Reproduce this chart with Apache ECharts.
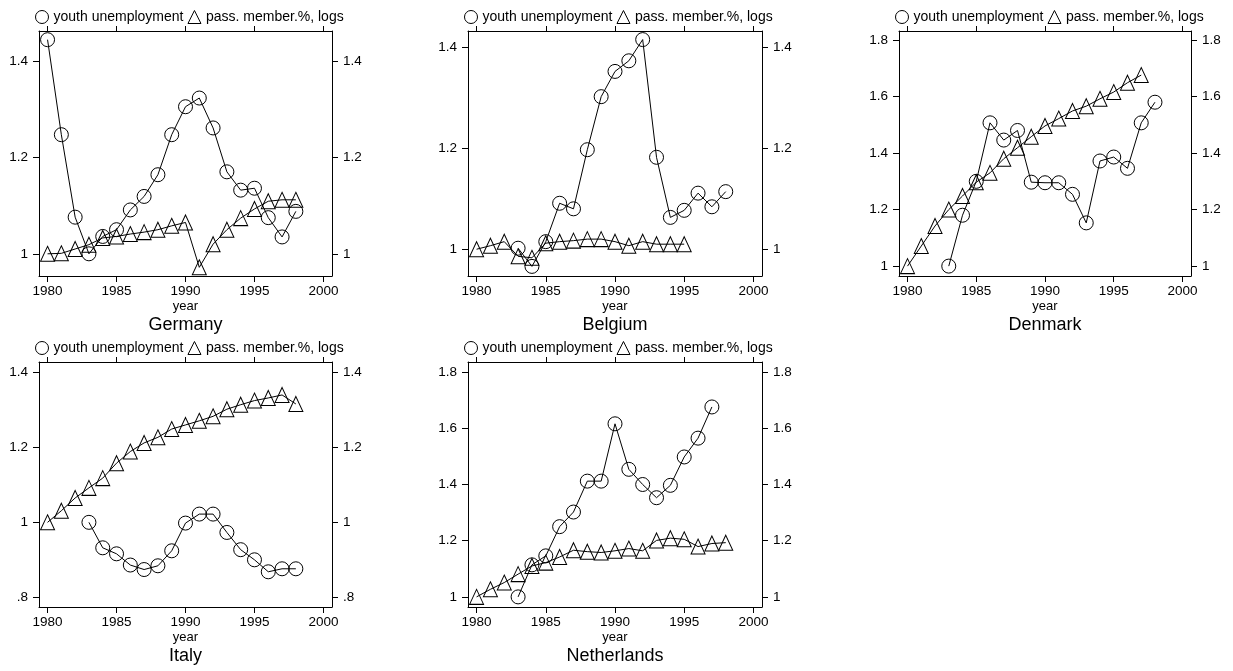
<!DOCTYPE html>
<html>
<head>
<meta charset="utf-8">
<title>youth unemployment and passenger membership</title>
<script src="https://cdn.jsdelivr.net/npm/echarts@6/dist/echarts.min.js"></script>
<style>
html, body { margin: 0; padding: 0; background: #fff; }
#main { width: 1233px; height: 671px; }
</style>
</head>
<body>
<div id="main"></div>
<script>
var years = [1980, 1981, 1982, 1983, 1984, 1985, 1986, 1987, 1988, 1989,
             1990, 1991, 1992, 1993, 1994, 1995, 1996, 1997, 1998];
var countries = ['Germany', 'Belgium', 'Denmark', 'Italy', 'Netherlands'];
var seriesNames = ['youth unemployment', 'pass. member.%, logs'];

var deUnemp  = [1.444, 1.247, 1.076, 1.000, 1.036, 1.050, 1.091, 1.119, 1.164, 1.247, 1.305, 1.323, 1.261, 1.170, 1.132, 1.136, 1.075, 1.035, 1.088];
var deMember = [1.000, 1.001, 1.010, 1.019, 1.033, 1.036, 1.041, 1.045, 1.050, 1.058, 1.065, 0.972, 1.020, 1.050, 1.074, 1.093, 1.109, 1.112, 1.112];

var beUnemp  = [null, null, null, 1.002, 0.966, 1.015, 1.091, 1.080, 1.197, 1.302, 1.352, 1.373, 1.415, 1.182, 1.063, 1.077, 1.111, 1.084, 1.114];
var beMember = [1.000, 1.007, 1.015, 0.986, 0.983, 1.012, 1.015, 1.017, 1.020, 1.020, 1.015, 1.007, 1.015, 1.010, 1.010, 1.010, null, null, null];

var dkUnemp  = [null, null, null, 1.000, 1.180, 1.300, 1.507, 1.446, 1.480, 1.297, 1.295, 1.295, 1.254, 1.153, 1.372, 1.386, 1.346, 1.507, 1.580];
var dkMember = [1.000, 1.071, 1.142, 1.200, 1.248, 1.297, 1.330, 1.380, 1.419, 1.458, 1.496, 1.522, 1.549, 1.566, 1.592, 1.616, 1.649, 1.676, null];

var itUnemp  = [null, null, null, 1.000, 0.932, 0.916, 0.886, 0.874, 0.884, 0.924, 0.998, 1.022, 1.022, 0.973, 0.927, 0.900, 0.868, 0.876, 0.876];
var itMember = [1.000, 1.031, 1.065, 1.092, 1.118, 1.158, 1.189, 1.212, 1.227, 1.249, 1.260, 1.271, 1.283, 1.302, 1.314, 1.325, 1.332, 1.340, 1.316];

var nlUnemp  = [null, null, null, 1.000, 1.114, 1.146, 1.250, 1.302, 1.412, 1.412, 1.616, 1.454, 1.400, 1.353, 1.397, 1.498, 1.565, 1.676, null];
var nlMember = [1.000, 1.027, 1.051, 1.081, 1.110, 1.122, 1.142, 1.166, 1.161, 1.158, 1.164, 1.172, 1.164, 1.201, 1.209, 1.205, 1.179, 1.190, 1.193];

var unempData  = [deUnemp, beUnemp, dkUnemp, itUnemp, nlUnemp];
var memberData = [deMember, beMember, dkMember, itMember, nlMember];

// tick labels
var xTicks = [1980, 1985, 1990, 1995, 2000];
var yTicks = [
    [1, 1.2, 1.4],
    [1, 1.2, 1.4],
    [1, 1.2, 1.4, 1.6, 1.8],
    [0.8, 1, 1.2, 1.4],
    [1, 1.2, 1.4, 1.6, 1.8]
];

// panel boxes (px) and y extents
var layout = [
    {left: 39,  top: 31,  width: 293, height: 245, ymin: 0.954, ymax: 1.462},
    {left: 468, top: 31,  width: 294, height: 245, ymin: 0.947, ymax: 1.432},
    {left: 899, top: 31,  width: 292, height: 245, ymin: 0.965, ymax: 1.832},
    {left: 39,  top: 362, width: 293, height: 245, ymin: 0.774, ymax: 1.428},
    {left: 468, top: 362, width: 294, height: 245, ymin: 0.964, ymax: 1.836}
];

var font = "'Liberation Sans', Arial, Helvetica, sans-serif";
var black = '#000';

function pairs(arr) {
    var out = [];
    for (var i = 0; i < years.length; i++) {
        if (arr[i] != null) out.push([years[i], arr[i]]);
    }
    return out;
}

function yLabel(v) {
    // stata style: ".8" and "1"
    var s = String(Math.round(v * 10) / 10);
    return s.replace(/^0\./, '.');
}

var grids = [], xAxes = [], yAxes = [], series = [], legends = [], titles = [];

for (var i = 0; i < countries.length; i++) {
    var L = layout[i];
    grids.push({left: L.left, top: L.top, width: L.width, height: L.height, containLabel: false});

    var axisLine = {show: true, onZero: false, lineStyle: {color: black, width: 1}};

    // bottom + top x axes
    xAxes.push({
        type: 'value', gridIndex: i, position: 'bottom', min: 1979.38, max: 2000.62,
        axisLine: axisLine,
        axisTick: {show: true, length: 6, customValues: xTicks, lineStyle: {color: black}},
        axisLabel: {customValues: xTicks, margin: 8, color: black, fontSize: 13.5, fontFamily: font,
                    formatter: function (v) { return String(v); }},
        splitLine: {show: false},
        name: 'year', nameLocation: 'middle', nameGap: 24,
        nameTextStyle: {color: black, fontSize: 13, fontFamily: font}
    });
    xAxes.push({
        type: 'value', gridIndex: i, position: 'top', min: 1979.38, max: 2000.62,
        axisLine: axisLine,
        axisTick: {show: true, length: 5, customValues: xTicks, lineStyle: {color: black}},
        axisLabel: {show: false},
        splitLine: {show: false}
    });

    // left + right y axes, same scale
    ['left', 'right'].forEach(function (pos) {
        yAxes.push({
            type: 'value', gridIndex: i, position: pos, min: L.ymin, max: L.ymax,
            axisLine: axisLine,
            axisTick: {show: true, length: 6, customValues: yTicks[i], lineStyle: {color: black}},
            axisLabel: {customValues: yTicks[i], margin: 11, formatter: yLabel,
                        color: black, fontSize: 13.5, fontFamily: font},
            splitLine: {show: false}
        });
    });

    series.push({
        type: 'line', name: seriesNames[0], xAxisIndex: 2 * i, yAxisIndex: 2 * i,
        data: pairs(unempData[i]),
        symbol: 'circle', symbolSize: 14,
        lineStyle: {color: black, width: 1},
        itemStyle: {color: 'rgba(0,0,0,0)', borderColor: black, borderWidth: 1},
        emphasis: {disabled: true}
    });
    series.push({
        type: 'line', name: seriesNames[1], xAxisIndex: 2 * i, yAxisIndex: 2 * i,
        data: pairs(memberData[i]),
        symbol: 'triangle', symbolSize: [14, 15],
        lineStyle: {color: black, width: 1},
        itemStyle: {color: 'rgba(0,0,0,0)', borderColor: black, borderWidth: 1},
        emphasis: {disabled: true}
    });

    legends.push({
        left: L.left - 4, top: L.top - 21, padding: 0,
        itemWidth: 13, itemHeight: 13, itemGap: 4, selectedMode: false,
        data: [{name: seriesNames[0], icon: 'circle'}, {name: seriesNames[1], icon: 'triangle'}],
        itemStyle: {color: 'rgba(0,0,0,0)', borderColor: black, borderWidth: 1},
        textStyle: {color: black, fontSize: 14, fontFamily: font}
    });

    titles.push({
        text: countries[i], left: L.left + L.width / 2, top: L.top + L.height + 40,
        textAlign: 'center', padding: 0,
        textStyle: {color: black, fontSize: 18, fontWeight: 'normal', fontFamily: font}
    });
}

var chart = echarts.init(document.getElementById('main'), null, {renderer: 'canvas'});
chart.setOption({
    animation: false,
    backgroundColor: '#fff',
    title: titles,
    legend: legends,
    grid: grids,
    xAxis: xAxes,
    yAxis: yAxes,
    series: series
});
</script>
</body>
</html>
